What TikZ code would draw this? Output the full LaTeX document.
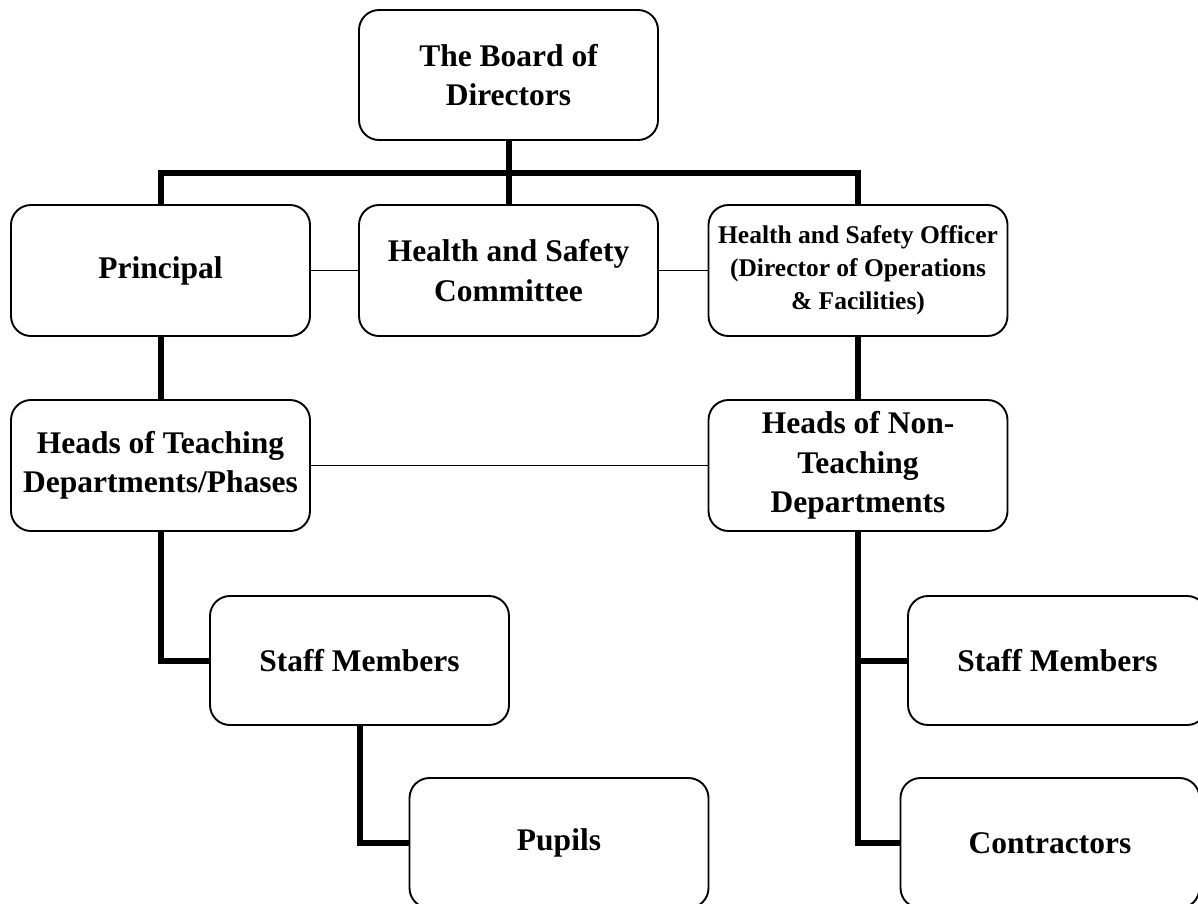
\documentclass[tikz,border=0pt]{standalone}
\usepackage{fontspec}
\setmainfont{Liberation Serif}
\begin{document}
\begin{tikzpicture}[x=1pt,y=-1pt,
  orgbox/.style={draw=black,line width=1.9pt,rounded corners=20pt,fill=white,
    minimum width=299pt,minimum height=130pt,align=center,inner sep=2pt,
    font=\fontsize{31.5}{39.5}\selectfont\bfseries},
  smalltext/.style={font=\fontsize{25.5}{33}\selectfont\bfseries},
  thickline/.style={line width=6pt},
  thinline/.style={line width=1.9pt}]
\useasboundingbox (0,0) rectangle (1198,903);
\clip (0,0) rectangle (1198,903);
\coordinate (bar) at (0,173);
% nodes
\node[orgbox] (board) at (508.5,75) {The Board of\\Directors};
\node[orgbox,minimum height=131pt] (principal) at (160.5,270.5) {Principal};
\node[orgbox,minimum height=131pt] (hsc) at (508.5,270.5) {Health and Safety\\Committee};
\node[orgbox,minimum height=131pt,smalltext] (hso) at (858,270.5) {Health and Safety Officer\\(Director of Operations\\\& Facilities)};
\node[orgbox,minimum height=131pt] (hteach) at (160.5,465.5) {Heads of Teaching\\Departments/Phases};
\node[orgbox,minimum height=131pt] (hnon) at (858,465.5) {Heads of Non-\\Teaching\\Departments};
\node[orgbox,minimum height=129pt] (staffL) at (359.5,660.5) {Staff Members};
\node[orgbox] (pupils) at (559,843) {Pupils};
\node[orgbox,minimum height=129pt] (staffR) at (1057.5,660.5) {Staff Members};
\node[orgbox] (contr) at (1050,843) {Contractors};
% thick connectors
\draw[thickline] (board.south) -- (hsc.north);
\draw[thickline] (principal.north) -- (principal.north |- bar) -- (hso.north |- bar) -- (hso.north);
\draw[thickline] (principal.south) -- (hteach.north);
\draw[thickline] (hso.south) -- (hnon.north);
\draw[thickline] (hteach.south) |- (staffL.west);
\draw[thickline] (staffL.south) |- (pupils.west);
\draw[thickline] (hnon.south) |- (contr.west);
\draw[thickline] (hnon.south |- staffR.west) -- (staffR.west);
% thin connectors
\draw[thinline] (principal.east) -- (hsc.west);
\draw[thinline] (hsc.east) -- (hso.west);
\draw[thinline] (hteach.east) -- (hnon.west);
\end{tikzpicture}
\end{document}
